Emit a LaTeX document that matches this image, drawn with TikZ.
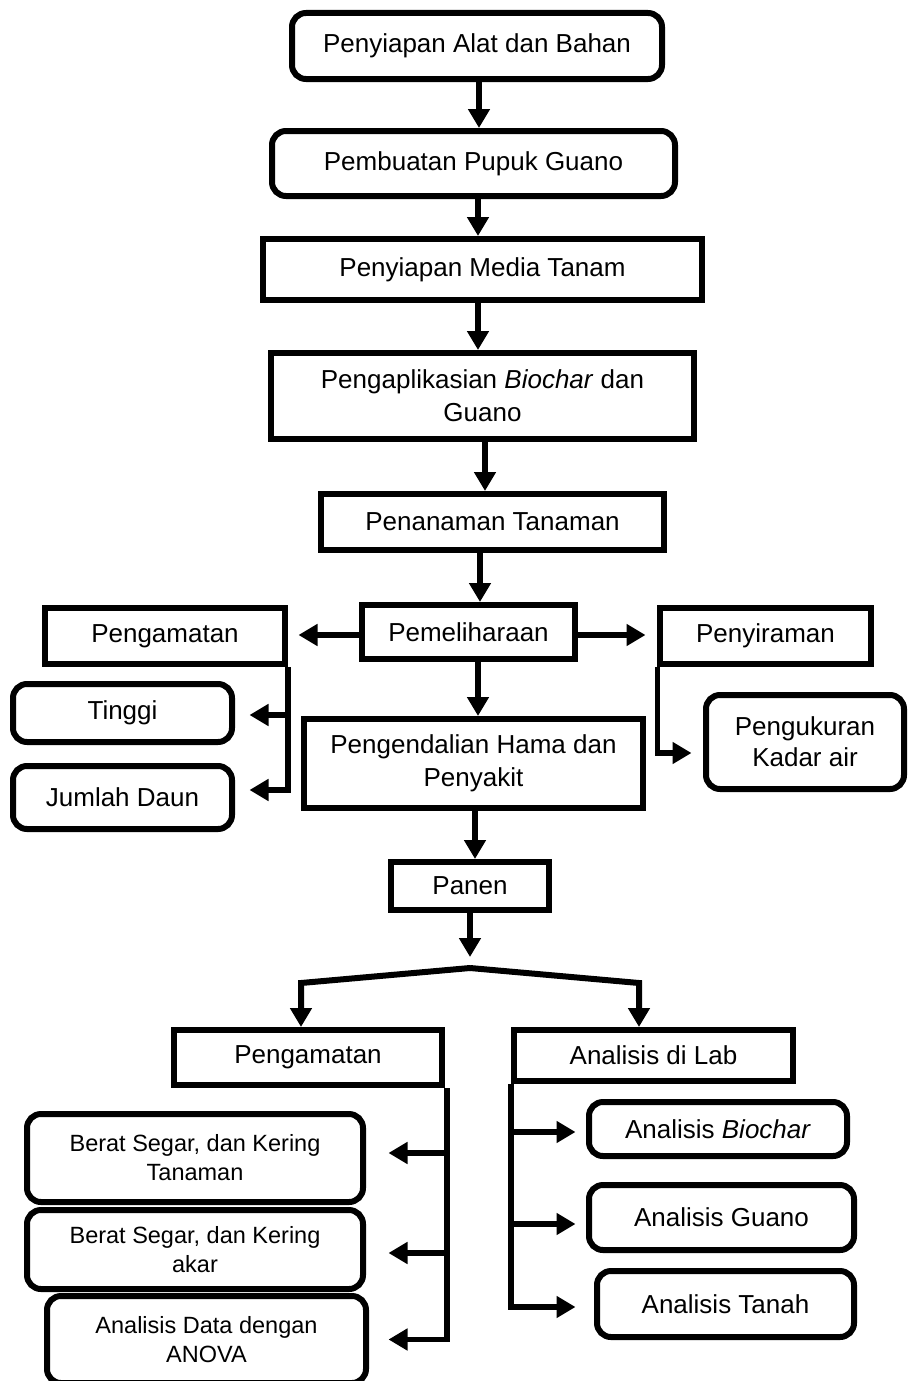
\documentclass[tikz,border=0pt]{standalone}
\usepackage{fontspec}
\setmainfont{Liberation Sans}
\usetikzlibrary{arrows.meta,calc}
\begin{document}
\begin{tikzpicture}[x=1pt,y=1pt,
  box/.style={draw=black, line width=6pt, align=center, inner sep=0pt, text=black, font=\fontsize{26}{33}\selectfont},
  rbox/.style={box, rounded corners=14pt},
  sbox/.style={rbox, font=\fontsize{23.5}{29}\selectfont},
  arr/.style={line width=5.5pt, -{Triangle[length=19pt,width=21pt]}},
]
\useasboundingbox (0,0) rectangle (911,-1381);

% main column
\node[rbox, minimum width=370pt, minimum height=66pt] (b1) at (477,-46) {Penyiapan Alat dan Bahan};
\node[rbox, minimum width=403pt, minimum height=65pt] (b2) at (473.5,-163.5) {Pembuatan Pupuk Guano};
\node[box, minimum width=439pt, minimum height=61pt] (b3) at (482.5,-269.5) {Penyiapan Media Tanam};
\node[box, minimum width=423pt, minimum height=86pt] (b4) at (482.5,-396) {Pengaplikasian \textit{Biochar} dan\\Guano};
\node[box, minimum width=343pt, minimum height=56pt] (b5) at (492.5,-522) {Penanaman Tanaman};
\node[box, minimum width=213pt, minimum height=54pt] (b6) at (468.5,-632) {Pemeliharaan};
\node[box, minimum width=240pt, minimum height=56pt] (b7) at (165,-636) {Pengamatan};
\node[box, minimum width=211pt, minimum height=56pt] (b8) at (765.5,-636) {Penyiraman};
\node[rbox, minimum width=219pt, minimum height=58pt] (b9) at (122.5,-713) {Tinggi};
\node[rbox, minimum width=219pt, minimum height=63pt] (b10) at (122.5,-797.5) {Jumlah Daun};
\node[box, minimum width=339pt, minimum height=89pt] (b11) at (473.5,-763.5) {Pengendalian Hama dan\\Penyakit};
\node[rbox, minimum width=198pt, minimum height=94pt, font=\fontsize{26}{31}\selectfont] (b12) at (805,-742) {Pengukuran\\Kadar air};
\node[box, minimum width=158pt, minimum height=48pt] (b13) at (470,-886) {Panen};
\node[box, minimum width=268pt, minimum height=55pt] (b14) at (308,-1057.5) {Pengamatan};
\node[box, minimum width=279pt, minimum height=51pt] (b15) at (653.5,-1055.5) {Analisis di Lab};
\node[sbox, minimum width=336pt, minimum height=88pt] (b16) at (195,-1158) {Berat Segar, dan Kering\\Tanaman};
\node[sbox, minimum width=336pt, minimum height=79pt] (b17) at (195,-1249.5) {Berat Segar, dan Kering\\akar};
\node[sbox, minimum width=319pt, minimum height=87pt] (b18) at (206.5,-1339.5) {Analisis Data dengan\\ANOVA};
\node[rbox, minimum width=258pt, minimum height=54pt] (b19) at (718,-1129) {Analisis \textit{Biochar}};
\node[rbox, minimum width=265pt, minimum height=65pt] (b20) at (721.5,-1217.5) {Analisis Guano};
\node[rbox, minimum width=257pt, minimum height=66pt] (b21) at (725.5,-1304) {Analisis Tanah};

% main arrows
\draw[arr] ([xshift=2pt]b1.south) -- ([xshift=2pt]b1.south |- b2.north);
\draw[arr] ([xshift=4.5pt]b2.south) -- ([xshift=4.5pt]b2.south |- b3.north);
\draw[arr] ([xshift=-4.5pt]b3.south) -- ([xshift=-4.5pt]b3.south |- b4.north);
\draw[arr] ([xshift=2.5pt]b4.south) -- ([xshift=2.5pt]b4.south |- b5.north);
\draw[arr] ([xshift=-12.5pt]b5.south) -- ([xshift=-12.5pt]b5.south |- b6.north);
\draw[arr, shorten >=10.5pt] ([yshift=-3pt]b6.west) -- ([yshift=-3pt]b6.west -| b7.east);
\draw[arr, shorten >=11.5pt] ([yshift=-3pt]b6.east) -- ([yshift=-3pt]b6.east -| b8.west);
\draw[arr] ([xshift=9.5pt]b6.south) -- ([xshift=9.5pt]b6.south |- b11.north);

% Pengamatan (upper) branches
\draw[arr, shorten >=14.5pt] (b7.south east) |- ([yshift=7.5pt]b10.east);
\draw[arr, shorten >=14.5pt] ([yshift=-2pt]b7.south east |- b9.east) -- ([yshift=-2pt]b9.east);

% Penyiraman branch
\draw[arr, shorten >=11.5pt] ([xshift=0.5pt]b8.south west) |- ([yshift=-11pt]b12.west);

% to Panen
\draw[arr] ([xshift=1.5pt]b11.south) -- ([xshift=1.5pt]b11.south |- b13.north);

% split
\coordinate (peak) at (470,-968);
\coordinate (sl) at (301,-983);
\coordinate (sr) at (639,-983);
\draw[arr] (b13.south) -- ([yshift=11pt]peak);
\draw[arr, line width=6pt] (peak) -- (sl) -- (sl |- b14.north);
\draw[arr, line width=6pt] (peak) -- (sr) -- (sr |- b15.north);

% Pengamatan (lower) branches
\draw[arr, shorten >=19.5pt] ([xshift=2pt]b14.south east) |- (b18.east);
\draw[arr, shorten >=22.5pt] ([xshift=2pt,yshift=5pt]b14.south east |- b16.east) -- ([yshift=5pt]b16.east);
\draw[arr, shorten >=22.5pt] ([xshift=2pt,yshift=-3.5pt]b14.south east |- b17.east) -- ([yshift=-3.5pt]b17.east);

% Analisis di Lab branches
\draw[arr, shorten >=18.5pt] (b15.south west) |- ([yshift=-3pt]b21.west);
\draw[arr, shorten >=10.5pt] ([yshift=-3pt]b15.south west |- b19.west) -- ([yshift=-3pt]b19.west);
\draw[arr, shorten >=10.5pt] ([yshift=-6.5pt]b15.south west |- b20.west) -- ([yshift=-6.5pt]b20.west);
\end{tikzpicture}
\end{document}
